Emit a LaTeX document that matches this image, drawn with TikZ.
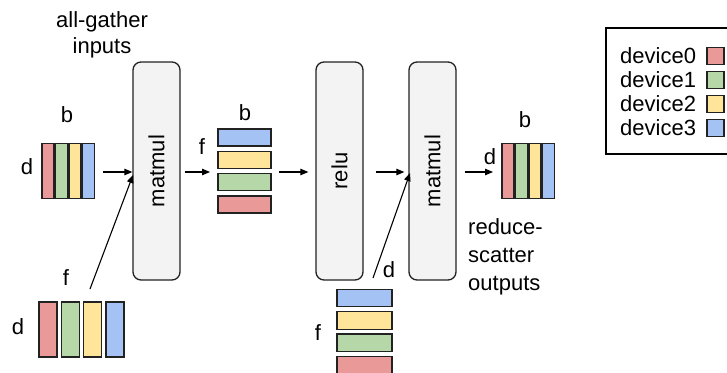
\documentclass[tikz,border=0pt]{standalone}
\usepackage{fontspec}
\setmainfont{Liberation Sans}
\usetikzlibrary{arrows.meta}

\definecolor{devred}{HTML}{EA9999}
\definecolor{devgreen}{HTML}{B6D7A8}
\definecolor{devyellow}{HTML}{FFE599}
\definecolor{devblue}{HTML}{A4C2F4}
\definecolor{opfill}{HTML}{F3F3F3}
\definecolor{ink}{HTML}{222222}

\tikzset{
  shard/.style={draw=ink, line width=1.4pt, inner sep=0pt, outer sep=0pt},
  vshard/.style={shard, minimum width=12pt, minimum height=55pt},
  wshard/.style={shard, minimum width=18pt, minimum height=55pt},
  hshard/.style={shard, minimum width=53pt, minimum height=17pt},
  hshardw/.style={shard, minimum width=55pt, minimum height=17.5pt},
  opbox/.style={draw=ink, line width=1.3pt, fill=opfill, rounded corners=8pt,
    minimum width=47pt, minimum height=218pt, inner sep=0pt,
    font=\fontsize{22}{26}\selectfont},
  lbl/.style={font=\fontsize{22}{26}\selectfont, inner sep=0pt},
  flow/.style={line width=1.1pt, -{Triangle[length=8pt,width=6.5pt]}},
  legsq/.style={shard, line width=1.3pt, minimum width=17pt, minimum height=17pt},
}

\begin{document}
\begin{tikzpicture}[x=1pt,y=-1pt]
\clip (0,0) rectangle (727,372);

% operators
\node[opbox] (mm1) at (156.5,171) {\rotatebox{90}{matmul}};
\node[opbox] (relu) at (339.5,171) {\rotatebox{90}{relu}};
\node[opbox] (mm2) at (432.5,171) {\rotatebox{90}{matmul}};

% activations in, sharded along b
\node[vshard, fill=devred]    (x0) at (48,171) {};
\node[vshard, fill=devgreen]  (x1) at (61.5,171) {};
\node[vshard, fill=devyellow] (x2) at (75,171) {};
\node[vshard, fill=devblue]   (x3) at (88.5,171) {};
\node[lbl] (xb) at (67,115) {b};
\node[lbl] (xd) at (27,167) {d};
\node[lbl, align=center, anchor=north] (ag) at (102,11) {all-gather\\inputs};

% first weight, sharded along f
\node[wshard, fill=devred]    (w0) at (48,329.5) {};
\node[wshard, fill=devgreen]  (w1) at (70.5,329.5) {};
\node[wshard, fill=devyellow] (w2) at (92.5,329.5) {};
\node[wshard, fill=devblue]   (w3) at (115,329.5) {};
\node[lbl] (wf) at (66,278) {f};
\node[lbl] (wd) at (18,327) {d};

% hidden activations
\node[hshard, fill=devblue]   (h3) at (244.5,137.5) {};
\node[hshard, fill=devyellow] (h2) at (244.5,159.8) {};
\node[hshard, fill=devgreen]  (h1) at (244.5,182.1) {};
\node[hshard, fill=devred]    (h0) at (244.5,204.4) {};
\node[lbl] (hf) at (202,147) {f};
\node[lbl] (hb) at (245,113) {b};

% second weight
\node[hshardw, fill=devblue]   (v3) at (364.5,298) {};
\node[hshardw, fill=devyellow] (v2) at (364.5,320.5) {};
\node[hshardw, fill=devgreen]  (v1) at (364.5,342.7) {};
\node[hshardw, fill=devred]    (v0) at (364.5,365) {};
\node[lbl] (vf) at (318,333) {f};
\node[lbl] (vd) at (389,270) {d};

% outputs
\node[vshard, fill=devred]    (y0) at (508,171) {};
\node[vshard, fill=devgreen]  (y1) at (521.5,171) {};
\node[vshard, fill=devyellow] (y2) at (535,171) {};
\node[vshard, fill=devblue]   (y3) at (548.5,171) {};
\node[lbl] (yb) at (525,120) {b};
\node[lbl] (yd) at (490,157) {d};
\node[lbl, align=left, anchor=north west, font=\fontsize{22}{28}\selectfont] (rs) at (468,218) {reduce-\\scatter\\outputs};

% data flow
\coordinate (hW) at (218,172);
\coordinate (hE) at (271,172);
\coordinate (yW) at (502,172);
\coordinate (wtail) at (90,289);
\coordinate (whead) at (133,175);
\coordinate (vtail) at (373,278);
\coordinate (vhead) at (410,173);
\draw[flow, shorten <=8.5pt] (x3.east |- 0,172) -- (mm1.west |- 0,172);
\draw[flow] (wtail) -- (whead);
\draw[flow, shorten <=4pt, shorten >=8pt] (mm1.east |- hW) -- (hW);
\draw[flow, shorten <=8pt, shorten >=7pt] (hE) -- (relu.west |- hE);
\draw[flow, shorten <=12pt, shorten >=4pt] (relu.east |- hE) -- (mm2.west |- hE);
\draw[flow] (vtail) -- (vhead);
\draw[flow, shorten <=8pt, shorten >=9pt] (mm2.east |- yW) -- (yW);

% legend
\draw[line width=1.3pt, draw=black] (606,28) rectangle (745,154);
\node[lbl, anchor=west] (l0) at (620,56) {device0};
\node[lbl, anchor=west] (l1) at (620,80) {device1};
\node[lbl, anchor=west] (l2) at (620,104) {device2};
\node[lbl, anchor=west] (l3) at (620,128) {device3};
\node[legsq, fill=devred]    (s0) at (715.5,56) {};
\node[legsq, fill=devgreen]  (s1) at (715.5,80) {};
\node[legsq, fill=devyellow] (s2) at (715.5,104) {};
\node[legsq, fill=devblue]   (s3) at (715.5,128) {};
\end{tikzpicture}
\end{document}
